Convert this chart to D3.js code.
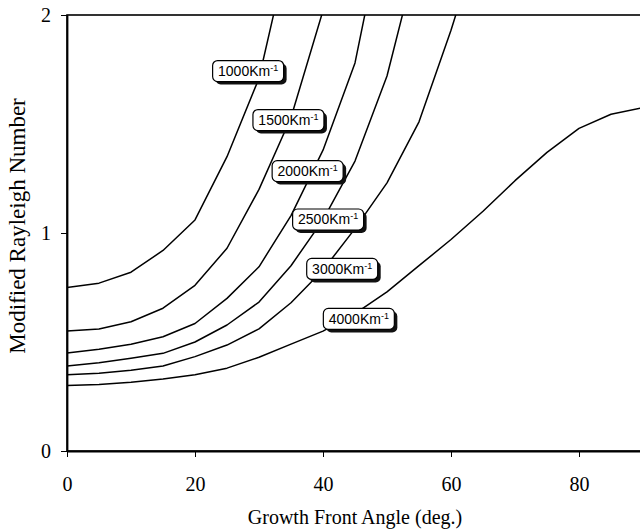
<!DOCTYPE html>
<html>
<head>
<meta charset="utf-8">
<script src="https://cdn.jsdelivr.net/npm/d3@7"></script>
<style>
  body { margin: 0; background: #fff; }
  svg { display: block; }
</style>
</head>
<body>
<svg id="chart" width="640" height="531"></svg>
<script>
// Growth front angle (degrees) at which each curve was evaluated
const angles = [0, 5, 10, 15, 20, 25, 30, 35, 40, 45, 50, 55, 60, 65, 70, 75, 80, 85, 90];

// Modified Rayleigh number for each wave number (Km^-1); values above 2 run off the top
const curveNames = ["1000", "1500", "2000", "2500", "3000", "4000"];
const ra1000 = [0.75, 0.77, 0.82, 0.92, 1.06, 1.35, 1.71, 2.35];
const ra1500 = [0.55, 0.56, 0.593, 0.655, 0.76, 0.93, 1.2, 1.53, 2.02, 2.7];
const ra2000 = [0.45, 0.467, 0.49, 0.524, 0.585, 0.70, 0.845, 1.08, 1.38, 1.78, 2.5];
const ra2500 = [0.39, 0.405, 0.425, 0.448, 0.50, 0.578, 0.683, 0.85, 1.06, 1.33, 1.72, 2.3];
const ra3000 = [0.35, 0.357, 0.37, 0.39, 0.433, 0.486, 0.56, 0.68, 0.83, 1.02, 1.23, 1.51, 1.93, 2.4];
const ra4000 = [0.30, 0.305, 0.315, 0.33, 0.35, 0.38, 0.43, 0.49, 0.55, 0.63, 0.73, 0.85, 0.97, 1.10, 1.24, 1.37, 1.48, 1.545, 1.575];
const curveValues = [ra1000, ra1500, ra2000, ra2500, ra3000, ra4000];

// Where each curve's name tag sits, in (angle, Rayleigh number)
const tagAngle = [28.3, 34.6, 37.6, 40.8, 43.0, 45.6];
const tagValue = [1.743, 1.518, 1.284, 1.062, 0.835, 0.606];

const xTicks = [0, 20, 40, 60, 80];
const yTicks = [0, 1, 2];

const svg = d3.select("#chart");
const plotL = 67, plotT = 15, plotB = 451, plotR = 643;

const x = d3.scaleLinear().domain([0, 90]).range([plotL, plotR]);
const y = d3.scaleLinear().domain([0, 2]).range([plotB, plotT]);

const serif = "'Liberation Serif', 'Times New Roman', serif";
const sans = "'Liberation Sans', Arial, sans-serif";

svg.append("defs").append("clipPath").attr("id", "plot-clip")
  .append("rect")
  .attr("x", plotL).attr("y", plotT)
  .attr("width", plotR - plotL).attr("height", plotB - plotT);

// plot area frame
svg.append("rect")
  .attr("x", plotL).attr("y", plotT)
  .attr("width", plotR - plotL).attr("height", plotB - plotT)
  .attr("fill", "none").attr("stroke", "#000").attr("stroke-width", 1.6);

// curves
const line = d3.line()
  .x((d, i) => x(angles[i]))
  .y(d => y(d));

svg.append("g").attr("clip-path", "url(#plot-clip)")
  .selectAll("path")
  .data(curveValues)
  .join("path")
  .attr("d", d => line(d))
  .attr("fill", "none")
  .attr("stroke", "#000")
  .attr("stroke-width", 1.5)
  .attr("stroke-linejoin", "round");

// axes
const yAxis = svg.append("g")
  .attr("transform", `translate(${plotL},0)`)
  .call(d3.axisLeft(y).tickValues(yTicks).tickFormat(d3.format("d"))
    .tickSize(6).tickSizeOuter(0).tickPadding(10));
yAxis.select(".domain").attr("stroke-width", 1.8);
yAxis.selectAll(".tick line").attr("stroke-width", 1);
yAxis.selectAll("text").attr("font-family", serif).attr("font-size", 20).attr("fill", "#000");

const xAxis = svg.append("g")
  .attr("transform", `translate(0,${plotB})`)
  .call(d3.axisBottom(x).tickValues(xTicks).tickFormat(d3.format("d"))
    .tickSize(6).tickSizeOuter(0).tickPadding(20));
xAxis.select(".domain").attr("stroke-width", 1.8);
xAxis.selectAll(".tick line").attr("stroke-width", 1);
xAxis.selectAll("text").attr("font-family", serif).attr("font-size", 20).attr("fill", "#000");

// axis titles
svg.append("text")
  .attr("x", 355).attr("y", 524)
  .attr("text-anchor", "middle")
  .attr("font-family", serif).attr("font-size", 20)
  .text("Growth Front Angle (deg.)");

svg.append("text")
  .attr("transform", "translate(25,226) rotate(-90)")
  .attr("text-anchor", "middle")
  .attr("font-family", serif).attr("font-size", 23)
  .text("Modified Rayleigh Number");

// curve name tags with drop shadows
const tagW = 71, tagH = 21;
const tags = svg.append("g").selectAll("g")
  .data(curveNames)
  .join("g")
  .attr("transform", (d, i) => `translate(${x(tagAngle[i]) - tagW / 2},${y(tagValue[i]) - tagH / 2})`);

tags.append("rect")
  .attr("x", 3).attr("y", 3)
  .attr("width", tagW).attr("height", tagH)
  .attr("rx", 5).attr("fill", "#111");

tags.append("rect")
  .attr("width", tagW).attr("height", tagH)
  .attr("rx", 5).attr("fill", "#fff")
  .attr("stroke", "#000").attr("stroke-width", 1.2);

const tagText = tags.append("text")
  .attr("x", tagW / 2).attr("y", 15.5)
  .attr("text-anchor", "middle")
  .attr("font-family", sans).attr("font-size", 14)
  .attr("fill", "#000");
tagText.append("tspan").text(d => d + "Km");
tagText.append("tspan").attr("font-size", 9).attr("dy", -5).text("-1");
</script>
</body>
</html>
